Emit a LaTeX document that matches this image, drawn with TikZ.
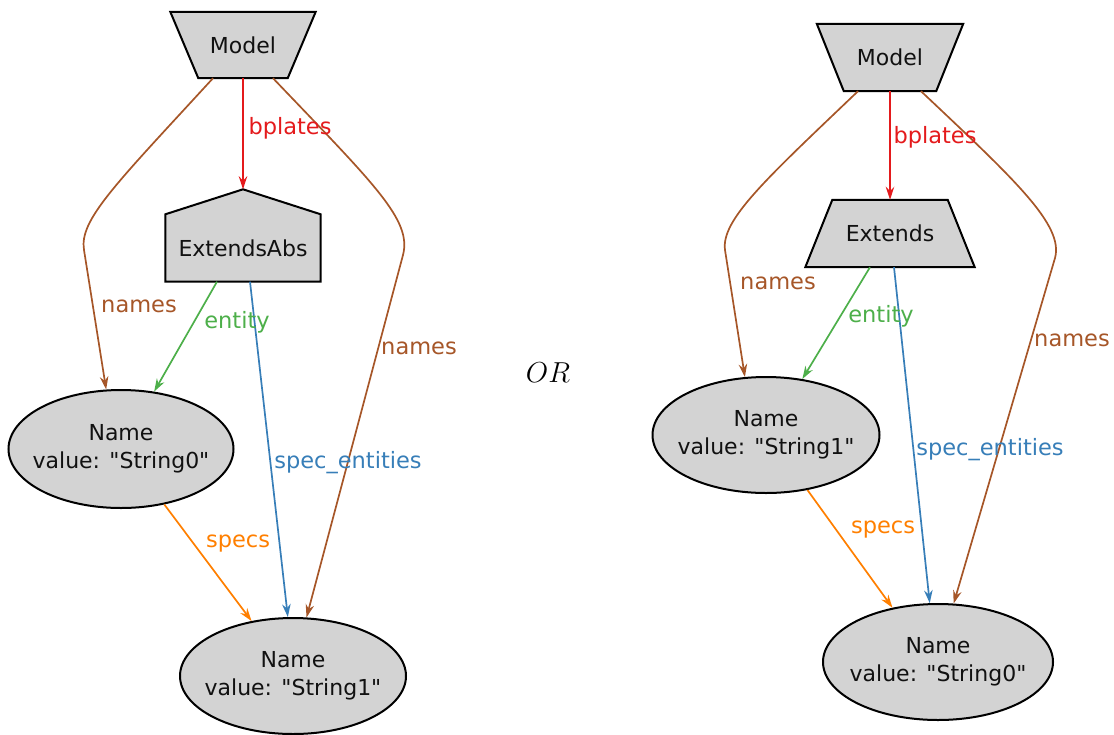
\documentclass[tikz,border=0pt]{standalone}
\usepackage{fontspec}
\usepackage{graphicx}
\setmainfont{DejaVu Sans}[Ligatures=TeXOff]
\usetikzlibrary{arrows.meta,backgrounds,shapes.geometric}
\definecolor{cbrown}{HTML}{A65628}
\definecolor{cred}{HTML}{E41A1C}
\definecolor{cgreen}{HTML}{4DAF4A}
\definecolor{cblue}{HTML}{377EB8}
\definecolor{corange}{HTML}{FF7F00}
\definecolor{nodegray}{HTML}{D3D3D3}
\definecolor{txtgray}{HTML}{111111}
\tikzset{
  lbl/.style={font=\fontsize{22.5}{26}\selectfont, inner sep=0pt},
  shapebox/.style={rectangle, inner sep=0pt, text=txtgray, font=\fontsize{22}{27}\selectfont},
  outline/.style={draw=black, fill=nodegray, line width=2pt, line join=miter},
  namenode/.style={ellipse, draw=black, fill=nodegray, line width=2pt, align=center,
    inner xsep=-14pt, inner ysep=0pt, text=txtgray, font=\fontsize{22}{28}\selectfont},
  edge/.style={line width=1.7pt, -{Stealth[length=13pt,width=8.5pt]}},
}
\begin{document}
\begin{tikzpicture}[x=1pt,y=-1pt]
\useasboundingbox (0,0) rectangle (1114,734);

% ---------- left graph ----------
\node[shapebox, minimum width=145pt, minimum height=66pt] (mL) at (243,45) {Model};
\node[shapebox, minimum width=155pt, minimum height=67pt] (eA) at (243,248) {ExtendsAbs};
\node[namenode, minimum width=225pt, minimum height=118pt] (n0L) at (121,449) {Name\\value: "String0"};
\node[namenode, minimum width=226pt, minimum height=116pt] (n1L) at (293,676) {Name\\value: "String1"};

% ---------- right graph ----------
\node[shapebox, minimum width=146pt, minimum height=67pt] (mR) at (890,57.5) {Model};
\node[shapebox, minimum width=169pt, minimum height=67pt] (eR) at (890,233.5) {Extends};
\node[namenode, minimum width=227pt, minimum height=116pt] (n1R) at (766,435) {Name\\value: "String1"};
\node[namenode, minimum width=230pt, minimum height=116pt] (n0R) at (938,662) {Name\\value: "String0"};

\begin{scope}[on background layer]
  \draw[outline] (mL.north west) -- (mL.north east) -- ([xshift=-28pt]mL.south east)
    -- ([xshift=28pt]mL.south west) -- cycle;
  \draw[outline] (eA.south west) -- (eA.north west) -- ([yshift=25pt]eA.north)
    -- (eA.north east) -- (eA.south east) -- cycle;
  \draw[outline] (mR.north west) -- (mR.north east) -- ([xshift=-27pt]mR.south east)
    -- ([xshift=27pt]mR.south west) -- cycle;
  \draw[outline] ([xshift=27pt]eR.north west) -- ([xshift=-27pt]eR.north east)
    -- (eR.south east) -- (eR.south west) -- cycle;
\end{scope}

% ---------- left edges ----------
\draw[edge, cred] (mL.south) -- ([yshift=25pt]eA.north);
\draw[edge, cbrown] ([xshift=-30pt]mL.south) .. controls (115,185) and (79,220) .. (84,250) -- (n0L.104);
\draw[edge, cbrown] ([xshift=30pt]mL.south) .. controls (375,185) and (412,220) .. (403,255) -- (n1L.77);
\draw[edge, cgreen] ([xshift=-26pt]eA.south) -- (n0L.60);
\draw[edge, cblue] ([xshift=7pt]eA.south) -- (n1L.95);
\draw[edge, corange] (n0L.-52) -- (n1L.127);

\node[lbl, text=cred] (lbL) at (290,128) {bplates};
\node[lbl, text=cbrown] (ln1L) at (139,306) {names};
\node[lbl, text=cbrown] (ln2L) at (419,348) {names};
\node[lbl, text=cgreen] (leL) at (237,322) {entity};
\node[lbl, text=cblue] (lsL) at (348,463) {spec\_entities};
\node[lbl, text=corange] (lspL) at (238,544) {specs};

% ---------- right edges ----------
\draw[edge, cred] (mR.south) -- (eR.north);
\draw[edge, cbrown] ([xshift=-32pt]mR.south) .. controls (765,180) and (721,220) .. (725,250) -- (n1R.110);
\draw[edge, cbrown] ([xshift=31pt]mR.south) .. controls (1015,180) and (1064,225) .. (1055,258) -- (n0R.75);
\draw[edge, cgreen] ([xshift=-20pt]eR.south) -- (n1R.57.5);
\draw[edge, cblue] ([xshift=4pt]eR.south) -- (n0R.98);
\draw[edge, corange] (n1R.-53) -- (n0R.130);

\node[lbl, text=cred] (lbR) at (935,137) {bplates};
\node[lbl, text=cbrown] (ln1R) at (778,283) {names};
\node[lbl, text=cbrown] (ln2R) at (1072,340) {names};
\node[lbl, text=cgreen] (leR) at (881,316) {entity};
\node[lbl, text=cblue] (lsR) at (990,450) {spec\_entities};
\node[lbl, text=corange] (lspR) at (883,530) {specs};

% ---------- OR ----------
\node[inner sep=0pt] (or) at (548,373) {\scalebox{1.16}{\fontsize{24.88}{28}\selectfont$OR$}};
\end{tikzpicture}
\end{document}
